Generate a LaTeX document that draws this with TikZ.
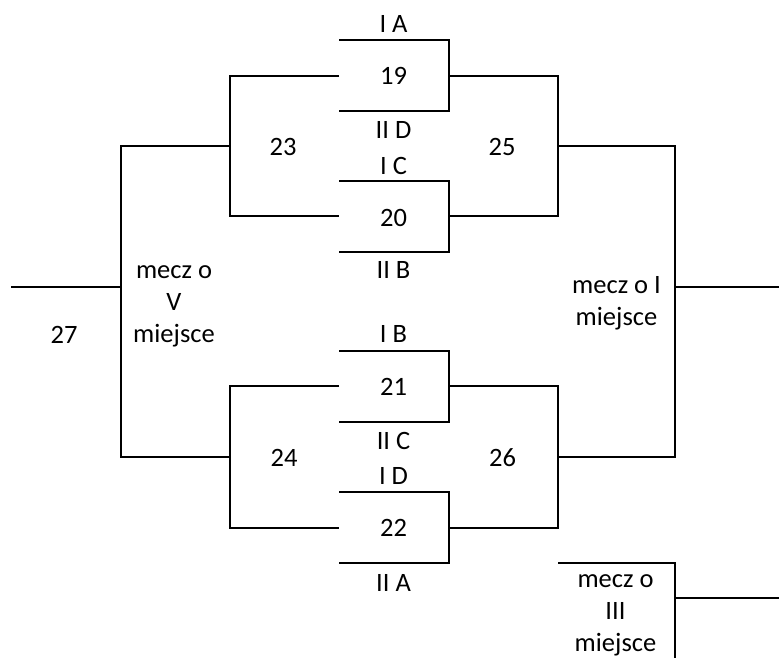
\documentclass[tikz,border=0pt]{standalone}
\usepackage{fontspec}
\setmainfont{Carlito}
\usepackage{tikz}

\begin{document}
\begin{tikzpicture}[x=1pt,y=-1pt,
  lbl/.style={anchor=base,inner sep=0pt,align=center,
    font=\fontsize{26.5}{31.8}\selectfont},
  every path/.style={line width=2pt}]
\useasboundingbox (0,0) rectangle (779,657);

% mecze 19, 20, 21, 22
\draw (339,40) -- (449,40) -- (449,110.7) -- (339,110.7);
\draw (339,181) -- (449,181) -- (449,251.7) -- (339,251.7);
\draw (339,350.7) -- (449,350.7) -- (449,421.7) -- (339,421.7);
\draw (339,492) -- (449,492) -- (449,562.7) -- (339,562.7);

% mecze 23, 24, 25, 26
\draw (339,75.5) -- (230,75.5) -- (230,216.3) -- (339,216.3);
\draw (449,75.5) -- (558,75.5) -- (558,216.3) -- (449,216.3);
\draw (339,386.2) -- (230,386.2) -- (230,527.5) -- (339,527.5);
\draw (449,386.2) -- (558,386.2) -- (558,527.5) -- (449,527.5);

% finaly
\draw (230,145.8) -- (121,145.8) -- (121,456.8) -- (230,456.8);
\draw (11,287) -- (121,287);
\draw (558,145.8) -- (675,145.8) -- (675,456.8) -- (558,456.8);
\draw (675,286.5) -- (779,286.5);
\draw (558,562.7) -- (675,562.7) -- (675,665);
\draw (675,598.3) -- (779,598.3);

\node[lbl] (ia) at (393.5,32.3) {I A};
\node[lbl] (m19) at (393.5,84) {19};
\node[lbl] (iid) at (393.5,138.3) {II D};
\node[lbl] (ic) at (393.5,174.3) {I C};
\node[lbl] (m20) at (393.5,226.7) {20};
\node[lbl] (iib) at (393.5,278.3) {II B};

\node[lbl] (ib) at (393.5,342.7) {I B};
\node[lbl] (m21) at (393.5,395) {21};
\node[lbl] (iic) at (393.5,449) {II C};
\node[lbl] (id) at (393.5,484.3) {I D};
\node[lbl] (m22) at (393.5,536.7) {22};
\node[lbl] (iia) at (393.5,591) {II A};

\node[lbl] (m23) at (283,155) {23};
\node[lbl] (m25) at (502,155) {25};
\node[lbl] (m24) at (284,466) {24};
\node[lbl] (m26) at (502.5,466) {26};

\node[lbl] (m27) at (64,343.3) {27};
\node[lbl] (fv) at (174,342) {mecz o\\V\\miejsce};
\node[lbl] (fi) at (616.5,325.5) {mecz o I\\miejsce};
\node[lbl] (fiii) at (615.5,651.5) {mecz o\\III\\miejsce};
\end{tikzpicture}
\end{document}
